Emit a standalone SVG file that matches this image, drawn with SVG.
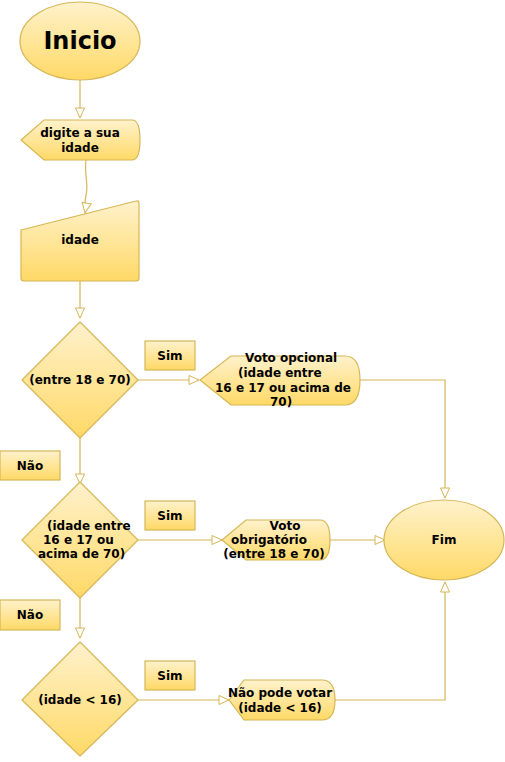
<svg xmlns="http://www.w3.org/2000/svg" width="505" height="762" viewBox="0 0 505 762">
<defs>
<linearGradient id="g" x1="0" y1="0" x2="0" y2="1">
<stop offset="0" stop-color="#fff2cc"/>
<stop offset="1" stop-color="#ffd966"/>
</linearGradient>
<marker id="arr" viewBox="0 0 12 12" refX="11" refY="6" markerWidth="12" markerHeight="12" markerUnits="userSpaceOnUse" orient="auto">
<path d="M1,1.5 L11,6 L1,10.5 Z" fill="#ffffff" stroke="#d6b656" stroke-width="1"/>
</marker>
<style>
.s{fill:url(#g);stroke:#d6b656;stroke-width:1.2}
.t{font-family:"DejaVu Sans",Verdana,sans-serif;font-weight:bold;font-size:12px;fill:#000}
.c{text-anchor:middle}
.e{fill:none;stroke:#d6b656;stroke-width:1.2}
</style>
</defs>
<rect width="505" height="762" fill="#ffffff"/>
<g id="connectors">
<path class="e" d="M80,80 L80,118" marker-end="url(#arr)"/>
<path class="e" d="M86,160 C84,175 89,185 86,195 C84,203 86,207 85,213" marker-end="url(#arr)"/>
<path class="e" d="M80,281 L80,318" marker-end="url(#arr)"/>
<path class="e" d="M138,380 L199,380" marker-end="url(#arr)"/>
<path class="e" d="M360,380 L445,380 L445,498" marker-end="url(#arr)"/>
<path class="e" d="M80,438 L80,484" marker-end="url(#arr)"/>
<path class="e" d="M138,540 L222,540" marker-end="url(#arr)"/>
<path class="e" d="M330,540 L385,540" marker-end="url(#arr)"/>
<path class="e" d="M80,598 L80,638" marker-end="url(#arr)"/>
<path class="e" d="M138,700 L229,700" marker-end="url(#arr)"/>
<path class="e" d="M335,700 L445,700 L445,582" marker-end="url(#arr)"/>
</g>
<g id="inicio">
<ellipse class="s" cx="80" cy="41" rx="60" ry="39"/>
<text class="t c" x="80" y="49" style="font-size:24px">Inicio</text>
</g>
<g id="digite">
<path class="s" d="M21,140 L44,120 L132,120 Q140,120 140,140 Q140,160 132,160 L44,160 Z"/>
<text class="t c" x="80" y="137">digite a sua</text>
<text class="t c" x="80" y="152">idade</text>
</g>
<g id="idade-input">
<path class="s" d="M21,230 L136,201 Q139,200 139,204 L139,278 Q139,281 136,281 L24,281 Q21,281 21,278 Z"/>
<text class="t c" x="80" y="244">idade</text>
</g>
<g id="dec1">
<path class="s" d="M80,322 L138,380 L80,438 L22,380 Z" stroke-linejoin="round"/>
<text class="t c" x="80" y="384">(entre 18 e 70)</text>
</g>
<g id="sim1">
<rect class="s" x="145" y="341" width="50" height="29"/>
<text class="t c" x="170" y="360">Sim</text>
</g>
<g id="opcional">
<path class="s" d="M200,380 L231,356 L345,356 Q360,356 360,380 Q360,405 345,405 L231,405 Z"/>
<text class="t" x="245" y="362">Voto opcional</text>
<text class="t" x="238" y="377">(idade entre</text>
<text class="t" x="215" y="392">16 e 17 ou acima de</text>
<text class="t" x="270" y="406">70)</text>
</g>
<g id="nao1">
<rect class="s" x="0" y="451" width="60" height="29"/>
<text class="t c" x="30" y="470">Não</text>
</g>
<g id="dec2">
<path class="s" d="M80,482 L138,540 L80,598 L22,540 Z" stroke-linejoin="round"/>
<text class="t" x="47" y="530">(idade entre</text>
<text class="t" x="43" y="544">16 e 17 ou</text>
<text class="t" x="38" y="558">acima de 70)</text>
</g>
<g id="sim2">
<rect class="s" x="145" y="501" width="50" height="29"/>
<text class="t c" x="170" y="520">Sim</text>
</g>
<g id="obrigatorio">
<path class="s" d="M222,540 L246,520 L320,520 Q330,520 330,540 Q330,560 320,560 L246,560 Z"/>
<text class="t c" x="285" y="530">Voto</text>
<text class="t c" x="269" y="544">obrigatório</text>
<text class="t c" x="274" y="558">(entre 18 e 70)</text>
</g>
<g id="fim">
<ellipse class="s" cx="444" cy="540" rx="60" ry="40"/>
<text class="t c" x="444" y="544">Fim</text>
</g>
<g id="nao2">
<rect class="s" x="0" y="600" width="60" height="30"/>
<text class="t c" x="30" y="619">Não</text>
</g>
<g id="dec3">
<path class="s" d="M80,642 L138,700 L80,756 L22,700 Z" stroke-linejoin="round"/>
<text class="t c" x="80" y="704">(idade &lt; 16)</text>
</g>
<g id="sim3">
<rect class="s" x="145" y="661" width="50" height="29"/>
<text class="t c" x="170" y="680">Sim</text>
</g>
<g id="naopode">
<path class="s" d="M229,700 L244,680 L322,680 Q335,680 335,700 Q335,720 322,720 L244,720 Z"/>
<text class="t c" x="280" y="697">Não pode votar</text>
<text class="t c" x="280" y="712">(idade &lt; 16)</text>
</g>
</svg>
